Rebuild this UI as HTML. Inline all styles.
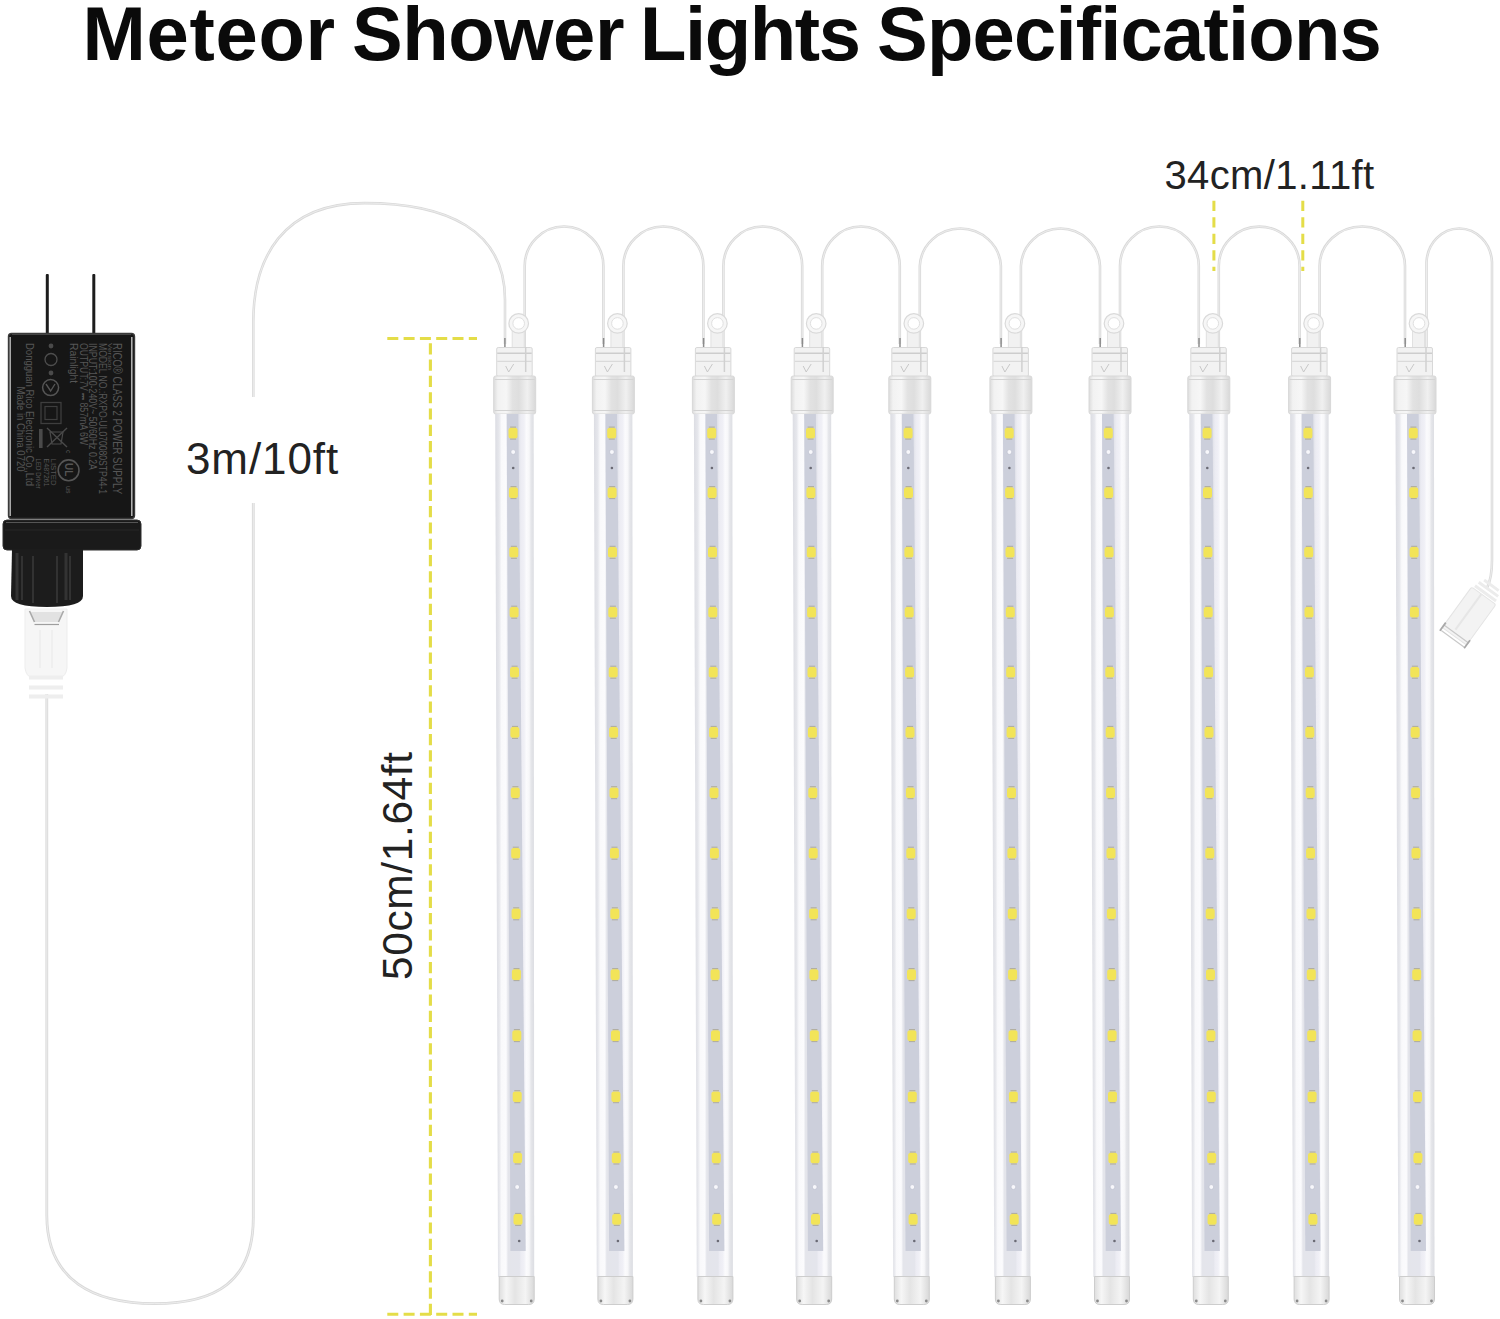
<!DOCTYPE html>
<html><head><meta charset="utf-8">
<style>
html,body{margin:0;padding:0;background:#fff;}
body{width:1500px;height:1319px;position:relative;overflow:hidden;font-family:"Liberation Sans",sans-serif;}
.t{position:absolute;white-space:nowrap;line-height:1;color:#111;}
svg{position:absolute;left:0;top:0;}
.lab{position:absolute;white-space:nowrap;line-height:1;color:#4a4a4a;font-size:7px;}
</style></head><body>
<svg width="1500" height="1319" viewBox="0 0 1500 1319">
<defs>
<linearGradient id="tubeg" x1="0" x2="1" y1="0" y2="0">
<stop offset="0" stop-color="#dcdde3"/><stop offset="0.1" stop-color="#e6e7ec"/><stop offset="0.16" stop-color="#f9f9fb"/><stop offset="0.28" stop-color="#fbfbfd"/><stop offset="0.33" stop-color="#e4e5eb"/>
<stop offset="0.62" stop-color="#e4e5ec"/><stop offset="0.66" stop-color="#ececf3"/><stop offset="0.74" stop-color="#f0f0f6"/><stop offset="0.8" stop-color="#fbfbfd"/><stop offset="0.87" stop-color="#f7f7f9"/><stop offset="0.92" stop-color="#e5e6ea"/><stop offset="1" stop-color="#dcdde2"/>
</linearGradient>
<linearGradient id="capg" x1="0" x2="1" y1="0" y2="0">
<stop offset="0" stop-color="#dcdcdc"/><stop offset="0.1" stop-color="#f2f2f2"/><stop offset="0.3" stop-color="#f6f6f6"/><stop offset="0.45" stop-color="#e2e2e2"/>
<stop offset="0.6" stop-color="#dedede"/><stop offset="0.8" stop-color="#f0f0f0"/><stop offset="1" stop-color="#d8d8d8"/>
</linearGradient>
<linearGradient id="bcapg" x1="0" x2="1" y1="0" y2="0">
<stop offset="0" stop-color="#dedede"/><stop offset="0.2" stop-color="#f6f6f6"/><stop offset="0.45" stop-color="#e4e4e4"/>
<stop offset="0.75" stop-color="#f4f4f4"/><stop offset="1" stop-color="#d8d8d8"/>
</linearGradient>
</defs>
<path d="M46.8 694 L46.8 1215 C46.8 1281.3 94.4 1303.6 154.6 1303.6 C215.8 1303.6 253.3 1281.6 253.3 1217.8 L253.3 503" fill="none" stroke="#d9d9d9" stroke-width="2.8"/><path d="M46.8 694 L46.8 1215 C46.8 1281.3 94.4 1303.6 154.6 1303.6 C215.8 1303.6 253.3 1281.6 253.3 1217.8 L253.3 503" fill="none" stroke="#eeeeee" stroke-width="0.98"/><path d="M253.3 397 L253.3 322 C253.3 257.7 283 203.1 364.5 203.1 C447 203.1 505 230 505 299.7 L505 344" fill="none" stroke="#d9d9d9" stroke-width="2.6"/><path d="M253.3 397 L253.3 322 C253.3 257.7 283 203.1 364.5 203.1 C447 203.1 505 230 505 299.7 L505 344" fill="none" stroke="#eeeeee" stroke-width="0.91"/><path d="M524.7 352 L524.7 266 A39.3 39.5 0 0 1 603.4 266 L603.4 344" fill="none" stroke="#d9d9d9" stroke-width="2.6"/><path d="M524.7 352 L524.7 266 A39.3 39.5 0 0 1 603.4 266 L603.4 344" fill="none" stroke="#eeeeee" stroke-width="0.91"/><path d="M623.4 352 L623.4 266 A40.0 39.5 0 0 1 703.4 266 L703.4 344" fill="none" stroke="#d9d9d9" stroke-width="2.6"/><path d="M623.4 352 L623.4 266 A40.0 39.5 0 0 1 703.4 266 L703.4 344" fill="none" stroke="#eeeeee" stroke-width="0.91"/><path d="M723.4 352 L723.4 266 A39.4 39.5 0 0 1 802.2 266 L802.2 344" fill="none" stroke="#d9d9d9" stroke-width="2.6"/><path d="M723.4 352 L723.4 266 A39.4 39.5 0 0 1 802.2 266 L802.2 344" fill="none" stroke="#eeeeee" stroke-width="0.91"/><path d="M822.2 352 L822.2 266 A38.8 39.5 0 0 1 899.8 266 L899.8 344" fill="none" stroke="#d9d9d9" stroke-width="2.6"/><path d="M822.2 352 L822.2 266 A38.8 39.5 0 0 1 899.8 266 L899.8 344" fill="none" stroke="#eeeeee" stroke-width="0.91"/><path d="M919.8 352 L919.8 266 A40.6 39.5 0 0 1 1000.9 266 L1000.9 344" fill="none" stroke="#d9d9d9" stroke-width="2.6"/><path d="M919.8 352 L919.8 266 A40.6 39.5 0 0 1 1000.9 266 L1000.9 344" fill="none" stroke="#eeeeee" stroke-width="0.91"/><path d="M1020.9 352 L1020.9 266 A39.6 39.5 0 0 1 1100.0 266 L1100.0 344" fill="none" stroke="#d9d9d9" stroke-width="2.6"/><path d="M1020.9 352 L1020.9 266 A39.6 39.5 0 0 1 1100.0 266 L1100.0 344" fill="none" stroke="#eeeeee" stroke-width="0.91"/><path d="M1120.0 352 L1120.0 266 A39.4 39.5 0 0 1 1198.8 266 L1198.8 344" fill="none" stroke="#d9d9d9" stroke-width="2.6"/><path d="M1120.0 352 L1120.0 266 A39.4 39.5 0 0 1 1198.8 266 L1198.8 344" fill="none" stroke="#eeeeee" stroke-width="0.91"/><path d="M1218.8 352 L1218.8 266 A40.4 39.5 0 0 1 1299.6 266 L1299.6 344" fill="none" stroke="#d9d9d9" stroke-width="2.6"/><path d="M1218.8 352 L1218.8 266 A40.4 39.5 0 0 1 1299.6 266 L1299.6 344" fill="none" stroke="#eeeeee" stroke-width="0.91"/><path d="M1319.6 352 L1319.6 266 A42.7 39.5 0 0 1 1405.0 266 L1405.0 344" fill="none" stroke="#d9d9d9" stroke-width="2.6"/><path d="M1319.6 352 L1319.6 266 A42.7 39.5 0 0 1 1405.0 266 L1405.0 344" fill="none" stroke="#eeeeee" stroke-width="0.91"/><path d="M1426.5 352 L1426.5 262 A32.8 35.5 0 0 1 1492.0 262 L1492.0 560 Q1492 578 1487 588" fill="none" stroke="#d9d9d9" stroke-width="2.6"/><path d="M1426.5 352 L1426.5 262 A32.8 35.5 0 0 1 1492.0 262 L1492.0 560 Q1492 578 1487 588" fill="none" stroke="#eeeeee" stroke-width="0.91"/><g transform="translate(1472 612) rotate(36)"><path d="M-9 -33 h18 M-12 -28 h24 M-13 -23 h26" stroke="#ececec" stroke-width="3"/><rect x="-15" y="-20" width="30" height="50" rx="2" fill="#f3f3f3" stroke="#e4e4e4" stroke-width="1"/><path d="M-3 -20 V24" stroke="#e6e6e6" stroke-width="2"/><path d="M-15 27 H15 M-14 33 H14" stroke="#c9c9c9" stroke-width="1.2"/><path d="M-15 24 V34 M15 24 V34" stroke="#a9a9a9" stroke-width="1.8"/></g><g><path d="M512.2 331 H524.2 V349 H512.2 Z" fill="#f1f1f1" stroke="#dedede" stroke-width="0.9"/><circle cx="518.7" cy="323.4" r="9.8" fill="#f6f6f6" stroke="#dadada" stroke-width="1.2"/><circle cx="518.7" cy="323.4" r="5.8" fill="#ffffff" stroke="#e0e0e0" stroke-width="1"/><rect x="496.7" y="347.5" width="35.5" height="29" rx="1.5" fill="#f2f2f2" stroke="#d8d8d8" stroke-width="1"/><path d="M497.2 353.3 H531.7" stroke="#cdcdcd" stroke-width="1.4"/><path d="M497.2 361.4 H531.7" stroke="#dadada" stroke-width="1.2"/><path d="M505.7 366 L508.7 372 L513.7 364" fill="none" stroke="#c8c8c8" stroke-width="1"/><path d="M504.9 338 V347" stroke="#8c8c8c" stroke-width="1.5"/><path d="M525.7 347 V372" stroke="#d0d0d0" stroke-width="1.5"/><rect x="493.7" y="376" width="42" height="38" rx="2" fill="url(#capg)" stroke="#d8d8d8" stroke-width="1"/><path d="M494.7 379.5 H534.7" stroke="#d4d4d4" stroke-width="1"/><path d="M494.7 410.5 H534.7" stroke="#d2d2d2" stroke-width="1.2"/><path d="M495.2 414 L533.7 414 L534.2 1277 L498.0 1277 Z" fill="url(#tubeg)"/><path d="M506.7 414 L518.4 414 L525.7 1251 L510.4 1251 Z" fill="#cccfdb"/><rect x="508.5" y="427.8" width="9" height="10.6" rx="2.5" fill="#f2e458"/><path d="M510.1 427.1 h6 M510.1 439.1 h6" stroke="#9d9470" stroke-width="1" opacity="0.6"/><rect x="508.9" y="487.3" width="9" height="10.6" rx="2.5" fill="#f2e458"/><path d="M510.5 486.6 h6 M510.5 498.6 h6" stroke="#9d9470" stroke-width="1" opacity="0.6"/><rect x="509.3" y="547.0" width="9" height="10.6" rx="2.5" fill="#f2e458"/><path d="M510.9 546.3 h6 M510.9 558.3 h6" stroke="#9d9470" stroke-width="1" opacity="0.6"/><rect x="509.6" y="606.9" width="9" height="10.6" rx="2.5" fill="#f2e458"/><path d="M511.2 606.2 h6 M511.2 618.2 h6" stroke="#9d9470" stroke-width="1" opacity="0.6"/><rect x="510.0" y="666.9" width="9" height="10.6" rx="2.5" fill="#f2e458"/><path d="M511.6 666.2 h6 M511.6 678.2 h6" stroke="#9d9470" stroke-width="1" opacity="0.6"/><rect x="510.4" y="727.1" width="9" height="10.6" rx="2.5" fill="#f2e458"/><path d="M512.0 726.4 h6 M512.0 738.4 h6" stroke="#9d9470" stroke-width="1" opacity="0.6"/><rect x="510.8" y="787.4" width="9" height="10.6" rx="2.5" fill="#f2e458"/><path d="M512.4 786.7 h6 M512.4 798.7 h6" stroke="#9d9470" stroke-width="1" opacity="0.6"/><rect x="511.2" y="847.9" width="9" height="10.6" rx="2.5" fill="#f2e458"/><path d="M512.8 847.2 h6 M512.8 859.2 h6" stroke="#9d9470" stroke-width="1" opacity="0.6"/><rect x="511.6" y="908.5" width="9" height="10.6" rx="2.5" fill="#f2e458"/><path d="M513.2 907.8 h6 M513.2 919.8 h6" stroke="#9d9470" stroke-width="1" opacity="0.6"/><rect x="511.9" y="969.3" width="9" height="10.6" rx="2.5" fill="#f2e458"/><path d="M513.5 968.6 h6 M513.5 980.6 h6" stroke="#9d9470" stroke-width="1" opacity="0.6"/><rect x="512.3" y="1030.3" width="9" height="10.6" rx="2.5" fill="#f2e458"/><path d="M513.9 1029.6 h6 M513.9 1041.6 h6" stroke="#9d9470" stroke-width="1" opacity="0.6"/><rect x="512.7" y="1091.4" width="9" height="10.6" rx="2.5" fill="#f2e458"/><path d="M514.3 1090.7 h6 M514.3 1102.7 h6" stroke="#9d9470" stroke-width="1" opacity="0.6"/><rect x="513.1" y="1152.7" width="9" height="10.6" rx="2.5" fill="#f2e458"/><path d="M514.7 1152.0 h6 M514.7 1164.0 h6" stroke="#9d9470" stroke-width="1" opacity="0.6"/><rect x="513.5" y="1214.1" width="9" height="10.6" rx="2.5" fill="#f2e458"/><path d="M515.1 1213.4 h6 M515.1 1225.4 h6" stroke="#9d9470" stroke-width="1" opacity="0.6"/><circle cx="513.2" cy="452" r="2.4" fill="#f7f7fb" stroke="#b8bccb" stroke-width="0.6"/><circle cx="517.2" cy="1187" r="2.4" fill="#f7f7fb" stroke="#b8bccb" stroke-width="0.6"/><circle cx="513.2" cy="468" r="1.3" fill="#6a6a74"/><circle cx="519.2" cy="1241" r="1.3" fill="#6a6a74"/><path d="M499.2 1276.5 H534.2 V1299 Q534.2 1304.5 528.7 1304.5 H504.7 Q499.2 1304.5 499.2 1299 Z" fill="url(#bcapg)" stroke="#cdcdcd" stroke-width="1"/><circle cx="502.2" cy="1301" r="1.4" fill="#8a8a8a"/><circle cx="531.2" cy="1301" r="1.4" fill="#8a8a8a"/></g><g><path d="M610.9 331 H622.9 V349 H610.9 Z" fill="#f1f1f1" stroke="#dedede" stroke-width="0.9"/><circle cx="617.4" cy="323.4" r="9.8" fill="#f6f6f6" stroke="#dadada" stroke-width="1.2"/><circle cx="617.4" cy="323.4" r="5.8" fill="#ffffff" stroke="#e0e0e0" stroke-width="1"/><rect x="595.4" y="347.5" width="35.5" height="29" rx="1.5" fill="#f2f2f2" stroke="#d8d8d8" stroke-width="1"/><path d="M595.9 353.3 H630.4" stroke="#cdcdcd" stroke-width="1.4"/><path d="M595.9 361.4 H630.4" stroke="#dadada" stroke-width="1.2"/><path d="M604.4 366 L607.4 372 L612.4 364" fill="none" stroke="#c8c8c8" stroke-width="1"/><path d="M603.6 338 V347" stroke="#8c8c8c" stroke-width="1.5"/><path d="M624.4 347 V372" stroke="#d0d0d0" stroke-width="1.5"/><rect x="592.4" y="376" width="42" height="38" rx="2" fill="url(#capg)" stroke="#d8d8d8" stroke-width="1"/><path d="M593.4 379.5 H633.4" stroke="#d4d4d4" stroke-width="1"/><path d="M593.4 410.5 H633.4" stroke="#d2d2d2" stroke-width="1.2"/><path d="M593.9 414 L632.4 414 L632.9 1277 L596.7 1277 Z" fill="url(#tubeg)"/><path d="M605.4 414 L617.1 414 L624.4 1251 L609.1 1251 Z" fill="#cccfdb"/><rect x="607.2" y="427.8" width="9" height="10.6" rx="2.5" fill="#f2e458"/><path d="M608.8 427.1 h6 M608.8 439.1 h6" stroke="#9d9470" stroke-width="1" opacity="0.6"/><rect x="607.6" y="487.3" width="9" height="10.6" rx="2.5" fill="#f2e458"/><path d="M609.2 486.6 h6 M609.2 498.6 h6" stroke="#9d9470" stroke-width="1" opacity="0.6"/><rect x="608.0" y="547.0" width="9" height="10.6" rx="2.5" fill="#f2e458"/><path d="M609.6 546.3 h6 M609.6 558.3 h6" stroke="#9d9470" stroke-width="1" opacity="0.6"/><rect x="608.3" y="606.9" width="9" height="10.6" rx="2.5" fill="#f2e458"/><path d="M609.9 606.2 h6 M609.9 618.2 h6" stroke="#9d9470" stroke-width="1" opacity="0.6"/><rect x="608.7" y="666.9" width="9" height="10.6" rx="2.5" fill="#f2e458"/><path d="M610.3 666.2 h6 M610.3 678.2 h6" stroke="#9d9470" stroke-width="1" opacity="0.6"/><rect x="609.1" y="727.1" width="9" height="10.6" rx="2.5" fill="#f2e458"/><path d="M610.7 726.4 h6 M610.7 738.4 h6" stroke="#9d9470" stroke-width="1" opacity="0.6"/><rect x="609.5" y="787.4" width="9" height="10.6" rx="2.5" fill="#f2e458"/><path d="M611.1 786.7 h6 M611.1 798.7 h6" stroke="#9d9470" stroke-width="1" opacity="0.6"/><rect x="609.9" y="847.9" width="9" height="10.6" rx="2.5" fill="#f2e458"/><path d="M611.5 847.2 h6 M611.5 859.2 h6" stroke="#9d9470" stroke-width="1" opacity="0.6"/><rect x="610.3" y="908.5" width="9" height="10.6" rx="2.5" fill="#f2e458"/><path d="M611.9 907.8 h6 M611.9 919.8 h6" stroke="#9d9470" stroke-width="1" opacity="0.6"/><rect x="610.6" y="969.3" width="9" height="10.6" rx="2.5" fill="#f2e458"/><path d="M612.2 968.6 h6 M612.2 980.6 h6" stroke="#9d9470" stroke-width="1" opacity="0.6"/><rect x="611.0" y="1030.3" width="9" height="10.6" rx="2.5" fill="#f2e458"/><path d="M612.6 1029.6 h6 M612.6 1041.6 h6" stroke="#9d9470" stroke-width="1" opacity="0.6"/><rect x="611.4" y="1091.4" width="9" height="10.6" rx="2.5" fill="#f2e458"/><path d="M613.0 1090.7 h6 M613.0 1102.7 h6" stroke="#9d9470" stroke-width="1" opacity="0.6"/><rect x="611.8" y="1152.7" width="9" height="10.6" rx="2.5" fill="#f2e458"/><path d="M613.4 1152.0 h6 M613.4 1164.0 h6" stroke="#9d9470" stroke-width="1" opacity="0.6"/><rect x="612.2" y="1214.1" width="9" height="10.6" rx="2.5" fill="#f2e458"/><path d="M613.8 1213.4 h6 M613.8 1225.4 h6" stroke="#9d9470" stroke-width="1" opacity="0.6"/><circle cx="611.9" cy="452" r="2.4" fill="#f7f7fb" stroke="#b8bccb" stroke-width="0.6"/><circle cx="615.9" cy="1187" r="2.4" fill="#f7f7fb" stroke="#b8bccb" stroke-width="0.6"/><circle cx="611.9" cy="468" r="1.3" fill="#6a6a74"/><circle cx="617.9" cy="1241" r="1.3" fill="#6a6a74"/><path d="M597.9 1276.5 H632.9 V1299 Q632.9 1304.5 627.4 1304.5 H603.4 Q597.9 1304.5 597.9 1299 Z" fill="url(#bcapg)" stroke="#cdcdcd" stroke-width="1"/><circle cx="600.9" cy="1301" r="1.4" fill="#8a8a8a"/><circle cx="629.9" cy="1301" r="1.4" fill="#8a8a8a"/></g><g><path d="M710.9 331 H722.9 V349 H710.9 Z" fill="#f1f1f1" stroke="#dedede" stroke-width="0.9"/><circle cx="717.4" cy="323.4" r="9.8" fill="#f6f6f6" stroke="#dadada" stroke-width="1.2"/><circle cx="717.4" cy="323.4" r="5.8" fill="#ffffff" stroke="#e0e0e0" stroke-width="1"/><rect x="695.4" y="347.5" width="35.5" height="29" rx="1.5" fill="#f2f2f2" stroke="#d8d8d8" stroke-width="1"/><path d="M695.9 353.3 H730.4" stroke="#cdcdcd" stroke-width="1.4"/><path d="M695.9 361.4 H730.4" stroke="#dadada" stroke-width="1.2"/><path d="M704.4 366 L707.4 372 L712.4 364" fill="none" stroke="#c8c8c8" stroke-width="1"/><path d="M703.6 338 V347" stroke="#8c8c8c" stroke-width="1.5"/><path d="M724.4 347 V372" stroke="#d0d0d0" stroke-width="1.5"/><rect x="692.4" y="376" width="42" height="38" rx="2" fill="url(#capg)" stroke="#d8d8d8" stroke-width="1"/><path d="M693.4 379.5 H733.4" stroke="#d4d4d4" stroke-width="1"/><path d="M693.4 410.5 H733.4" stroke="#d2d2d2" stroke-width="1.2"/><path d="M693.9 414 L732.4 414 L732.9 1277 L696.7 1277 Z" fill="url(#tubeg)"/><path d="M705.4 414 L717.1 414 L724.4 1251 L709.1 1251 Z" fill="#cccfdb"/><rect x="707.2" y="427.8" width="9" height="10.6" rx="2.5" fill="#f2e458"/><path d="M708.8 427.1 h6 M708.8 439.1 h6" stroke="#9d9470" stroke-width="1" opacity="0.6"/><rect x="707.6" y="487.3" width="9" height="10.6" rx="2.5" fill="#f2e458"/><path d="M709.2 486.6 h6 M709.2 498.6 h6" stroke="#9d9470" stroke-width="1" opacity="0.6"/><rect x="708.0" y="547.0" width="9" height="10.6" rx="2.5" fill="#f2e458"/><path d="M709.6 546.3 h6 M709.6 558.3 h6" stroke="#9d9470" stroke-width="1" opacity="0.6"/><rect x="708.3" y="606.9" width="9" height="10.6" rx="2.5" fill="#f2e458"/><path d="M709.9 606.2 h6 M709.9 618.2 h6" stroke="#9d9470" stroke-width="1" opacity="0.6"/><rect x="708.7" y="666.9" width="9" height="10.6" rx="2.5" fill="#f2e458"/><path d="M710.3 666.2 h6 M710.3 678.2 h6" stroke="#9d9470" stroke-width="1" opacity="0.6"/><rect x="709.1" y="727.1" width="9" height="10.6" rx="2.5" fill="#f2e458"/><path d="M710.7 726.4 h6 M710.7 738.4 h6" stroke="#9d9470" stroke-width="1" opacity="0.6"/><rect x="709.5" y="787.4" width="9" height="10.6" rx="2.5" fill="#f2e458"/><path d="M711.1 786.7 h6 M711.1 798.7 h6" stroke="#9d9470" stroke-width="1" opacity="0.6"/><rect x="709.9" y="847.9" width="9" height="10.6" rx="2.5" fill="#f2e458"/><path d="M711.5 847.2 h6 M711.5 859.2 h6" stroke="#9d9470" stroke-width="1" opacity="0.6"/><rect x="710.3" y="908.5" width="9" height="10.6" rx="2.5" fill="#f2e458"/><path d="M711.9 907.8 h6 M711.9 919.8 h6" stroke="#9d9470" stroke-width="1" opacity="0.6"/><rect x="710.6" y="969.3" width="9" height="10.6" rx="2.5" fill="#f2e458"/><path d="M712.2 968.6 h6 M712.2 980.6 h6" stroke="#9d9470" stroke-width="1" opacity="0.6"/><rect x="711.0" y="1030.3" width="9" height="10.6" rx="2.5" fill="#f2e458"/><path d="M712.6 1029.6 h6 M712.6 1041.6 h6" stroke="#9d9470" stroke-width="1" opacity="0.6"/><rect x="711.4" y="1091.4" width="9" height="10.6" rx="2.5" fill="#f2e458"/><path d="M713.0 1090.7 h6 M713.0 1102.7 h6" stroke="#9d9470" stroke-width="1" opacity="0.6"/><rect x="711.8" y="1152.7" width="9" height="10.6" rx="2.5" fill="#f2e458"/><path d="M713.4 1152.0 h6 M713.4 1164.0 h6" stroke="#9d9470" stroke-width="1" opacity="0.6"/><rect x="712.2" y="1214.1" width="9" height="10.6" rx="2.5" fill="#f2e458"/><path d="M713.8 1213.4 h6 M713.8 1225.4 h6" stroke="#9d9470" stroke-width="1" opacity="0.6"/><circle cx="711.9" cy="452" r="2.4" fill="#f7f7fb" stroke="#b8bccb" stroke-width="0.6"/><circle cx="715.9" cy="1187" r="2.4" fill="#f7f7fb" stroke="#b8bccb" stroke-width="0.6"/><circle cx="711.9" cy="468" r="1.3" fill="#6a6a74"/><circle cx="717.9" cy="1241" r="1.3" fill="#6a6a74"/><path d="M697.9 1276.5 H732.9 V1299 Q732.9 1304.5 727.4 1304.5 H703.4 Q697.9 1304.5 697.9 1299 Z" fill="url(#bcapg)" stroke="#cdcdcd" stroke-width="1"/><circle cx="700.9" cy="1301" r="1.4" fill="#8a8a8a"/><circle cx="729.9" cy="1301" r="1.4" fill="#8a8a8a"/></g><g><path d="M809.7 331 H821.7 V349 H809.7 Z" fill="#f1f1f1" stroke="#dedede" stroke-width="0.9"/><circle cx="816.2" cy="323.4" r="9.8" fill="#f6f6f6" stroke="#dadada" stroke-width="1.2"/><circle cx="816.2" cy="323.4" r="5.8" fill="#ffffff" stroke="#e0e0e0" stroke-width="1"/><rect x="794.2" y="347.5" width="35.5" height="29" rx="1.5" fill="#f2f2f2" stroke="#d8d8d8" stroke-width="1"/><path d="M794.7 353.3 H829.2" stroke="#cdcdcd" stroke-width="1.4"/><path d="M794.7 361.4 H829.2" stroke="#dadada" stroke-width="1.2"/><path d="M803.2 366 L806.2 372 L811.2 364" fill="none" stroke="#c8c8c8" stroke-width="1"/><path d="M802.4 338 V347" stroke="#8c8c8c" stroke-width="1.5"/><path d="M823.2 347 V372" stroke="#d0d0d0" stroke-width="1.5"/><rect x="791.2" y="376" width="42" height="38" rx="2" fill="url(#capg)" stroke="#d8d8d8" stroke-width="1"/><path d="M792.2 379.5 H832.2" stroke="#d4d4d4" stroke-width="1"/><path d="M792.2 410.5 H832.2" stroke="#d2d2d2" stroke-width="1.2"/><path d="M792.7 414 L831.2 414 L831.7 1277 L795.5 1277 Z" fill="url(#tubeg)"/><path d="M804.2 414 L815.9 414 L823.2 1251 L807.9 1251 Z" fill="#cccfdb"/><rect x="806.0" y="427.8" width="9" height="10.6" rx="2.5" fill="#f2e458"/><path d="M807.6 427.1 h6 M807.6 439.1 h6" stroke="#9d9470" stroke-width="1" opacity="0.6"/><rect x="806.4" y="487.3" width="9" height="10.6" rx="2.5" fill="#f2e458"/><path d="M808.0 486.6 h6 M808.0 498.6 h6" stroke="#9d9470" stroke-width="1" opacity="0.6"/><rect x="806.8" y="547.0" width="9" height="10.6" rx="2.5" fill="#f2e458"/><path d="M808.4 546.3 h6 M808.4 558.3 h6" stroke="#9d9470" stroke-width="1" opacity="0.6"/><rect x="807.1" y="606.9" width="9" height="10.6" rx="2.5" fill="#f2e458"/><path d="M808.7 606.2 h6 M808.7 618.2 h6" stroke="#9d9470" stroke-width="1" opacity="0.6"/><rect x="807.5" y="666.9" width="9" height="10.6" rx="2.5" fill="#f2e458"/><path d="M809.1 666.2 h6 M809.1 678.2 h6" stroke="#9d9470" stroke-width="1" opacity="0.6"/><rect x="807.9" y="727.1" width="9" height="10.6" rx="2.5" fill="#f2e458"/><path d="M809.5 726.4 h6 M809.5 738.4 h6" stroke="#9d9470" stroke-width="1" opacity="0.6"/><rect x="808.3" y="787.4" width="9" height="10.6" rx="2.5" fill="#f2e458"/><path d="M809.9 786.7 h6 M809.9 798.7 h6" stroke="#9d9470" stroke-width="1" opacity="0.6"/><rect x="808.7" y="847.9" width="9" height="10.6" rx="2.5" fill="#f2e458"/><path d="M810.3 847.2 h6 M810.3 859.2 h6" stroke="#9d9470" stroke-width="1" opacity="0.6"/><rect x="809.1" y="908.5" width="9" height="10.6" rx="2.5" fill="#f2e458"/><path d="M810.7 907.8 h6 M810.7 919.8 h6" stroke="#9d9470" stroke-width="1" opacity="0.6"/><rect x="809.4" y="969.3" width="9" height="10.6" rx="2.5" fill="#f2e458"/><path d="M811.0 968.6 h6 M811.0 980.6 h6" stroke="#9d9470" stroke-width="1" opacity="0.6"/><rect x="809.8" y="1030.3" width="9" height="10.6" rx="2.5" fill="#f2e458"/><path d="M811.4 1029.6 h6 M811.4 1041.6 h6" stroke="#9d9470" stroke-width="1" opacity="0.6"/><rect x="810.2" y="1091.4" width="9" height="10.6" rx="2.5" fill="#f2e458"/><path d="M811.8 1090.7 h6 M811.8 1102.7 h6" stroke="#9d9470" stroke-width="1" opacity="0.6"/><rect x="810.6" y="1152.7" width="9" height="10.6" rx="2.5" fill="#f2e458"/><path d="M812.2 1152.0 h6 M812.2 1164.0 h6" stroke="#9d9470" stroke-width="1" opacity="0.6"/><rect x="811.0" y="1214.1" width="9" height="10.6" rx="2.5" fill="#f2e458"/><path d="M812.6 1213.4 h6 M812.6 1225.4 h6" stroke="#9d9470" stroke-width="1" opacity="0.6"/><circle cx="810.7" cy="452" r="2.4" fill="#f7f7fb" stroke="#b8bccb" stroke-width="0.6"/><circle cx="814.7" cy="1187" r="2.4" fill="#f7f7fb" stroke="#b8bccb" stroke-width="0.6"/><circle cx="810.7" cy="468" r="1.3" fill="#6a6a74"/><circle cx="816.7" cy="1241" r="1.3" fill="#6a6a74"/><path d="M796.7 1276.5 H831.7 V1299 Q831.7 1304.5 826.2 1304.5 H802.2 Q796.7 1304.5 796.7 1299 Z" fill="url(#bcapg)" stroke="#cdcdcd" stroke-width="1"/><circle cx="799.7" cy="1301" r="1.4" fill="#8a8a8a"/><circle cx="828.7" cy="1301" r="1.4" fill="#8a8a8a"/></g><g><path d="M907.3 331 H919.3 V349 H907.3 Z" fill="#f1f1f1" stroke="#dedede" stroke-width="0.9"/><circle cx="913.8" cy="323.4" r="9.8" fill="#f6f6f6" stroke="#dadada" stroke-width="1.2"/><circle cx="913.8" cy="323.4" r="5.8" fill="#ffffff" stroke="#e0e0e0" stroke-width="1"/><rect x="891.8" y="347.5" width="35.5" height="29" rx="1.5" fill="#f2f2f2" stroke="#d8d8d8" stroke-width="1"/><path d="M892.3 353.3 H926.8" stroke="#cdcdcd" stroke-width="1.4"/><path d="M892.3 361.4 H926.8" stroke="#dadada" stroke-width="1.2"/><path d="M900.8 366 L903.8 372 L908.8 364" fill="none" stroke="#c8c8c8" stroke-width="1"/><path d="M900.0 338 V347" stroke="#8c8c8c" stroke-width="1.5"/><path d="M920.8 347 V372" stroke="#d0d0d0" stroke-width="1.5"/><rect x="888.8" y="376" width="42" height="38" rx="2" fill="url(#capg)" stroke="#d8d8d8" stroke-width="1"/><path d="M889.8 379.5 H929.8" stroke="#d4d4d4" stroke-width="1"/><path d="M889.8 410.5 H929.8" stroke="#d2d2d2" stroke-width="1.2"/><path d="M890.3 414 L928.8 414 L929.3 1277 L893.1 1277 Z" fill="url(#tubeg)"/><path d="M901.8 414 L913.5 414 L920.8 1251 L905.5 1251 Z" fill="#cccfdb"/><rect x="903.6" y="427.8" width="9" height="10.6" rx="2.5" fill="#f2e458"/><path d="M905.2 427.1 h6 M905.2 439.1 h6" stroke="#9d9470" stroke-width="1" opacity="0.6"/><rect x="904.0" y="487.3" width="9" height="10.6" rx="2.5" fill="#f2e458"/><path d="M905.6 486.6 h6 M905.6 498.6 h6" stroke="#9d9470" stroke-width="1" opacity="0.6"/><rect x="904.4" y="547.0" width="9" height="10.6" rx="2.5" fill="#f2e458"/><path d="M906.0 546.3 h6 M906.0 558.3 h6" stroke="#9d9470" stroke-width="1" opacity="0.6"/><rect x="904.7" y="606.9" width="9" height="10.6" rx="2.5" fill="#f2e458"/><path d="M906.3 606.2 h6 M906.3 618.2 h6" stroke="#9d9470" stroke-width="1" opacity="0.6"/><rect x="905.1" y="666.9" width="9" height="10.6" rx="2.5" fill="#f2e458"/><path d="M906.7 666.2 h6 M906.7 678.2 h6" stroke="#9d9470" stroke-width="1" opacity="0.6"/><rect x="905.5" y="727.1" width="9" height="10.6" rx="2.5" fill="#f2e458"/><path d="M907.1 726.4 h6 M907.1 738.4 h6" stroke="#9d9470" stroke-width="1" opacity="0.6"/><rect x="905.9" y="787.4" width="9" height="10.6" rx="2.5" fill="#f2e458"/><path d="M907.5 786.7 h6 M907.5 798.7 h6" stroke="#9d9470" stroke-width="1" opacity="0.6"/><rect x="906.3" y="847.9" width="9" height="10.6" rx="2.5" fill="#f2e458"/><path d="M907.9 847.2 h6 M907.9 859.2 h6" stroke="#9d9470" stroke-width="1" opacity="0.6"/><rect x="906.7" y="908.5" width="9" height="10.6" rx="2.5" fill="#f2e458"/><path d="M908.3 907.8 h6 M908.3 919.8 h6" stroke="#9d9470" stroke-width="1" opacity="0.6"/><rect x="907.0" y="969.3" width="9" height="10.6" rx="2.5" fill="#f2e458"/><path d="M908.6 968.6 h6 M908.6 980.6 h6" stroke="#9d9470" stroke-width="1" opacity="0.6"/><rect x="907.4" y="1030.3" width="9" height="10.6" rx="2.5" fill="#f2e458"/><path d="M909.0 1029.6 h6 M909.0 1041.6 h6" stroke="#9d9470" stroke-width="1" opacity="0.6"/><rect x="907.8" y="1091.4" width="9" height="10.6" rx="2.5" fill="#f2e458"/><path d="M909.4 1090.7 h6 M909.4 1102.7 h6" stroke="#9d9470" stroke-width="1" opacity="0.6"/><rect x="908.2" y="1152.7" width="9" height="10.6" rx="2.5" fill="#f2e458"/><path d="M909.8 1152.0 h6 M909.8 1164.0 h6" stroke="#9d9470" stroke-width="1" opacity="0.6"/><rect x="908.6" y="1214.1" width="9" height="10.6" rx="2.5" fill="#f2e458"/><path d="M910.2 1213.4 h6 M910.2 1225.4 h6" stroke="#9d9470" stroke-width="1" opacity="0.6"/><circle cx="908.3" cy="452" r="2.4" fill="#f7f7fb" stroke="#b8bccb" stroke-width="0.6"/><circle cx="912.3" cy="1187" r="2.4" fill="#f7f7fb" stroke="#b8bccb" stroke-width="0.6"/><circle cx="908.3" cy="468" r="1.3" fill="#6a6a74"/><circle cx="914.3" cy="1241" r="1.3" fill="#6a6a74"/><path d="M894.3 1276.5 H929.3 V1299 Q929.3 1304.5 923.8 1304.5 H899.8 Q894.3 1304.5 894.3 1299 Z" fill="url(#bcapg)" stroke="#cdcdcd" stroke-width="1"/><circle cx="897.3" cy="1301" r="1.4" fill="#8a8a8a"/><circle cx="926.3" cy="1301" r="1.4" fill="#8a8a8a"/></g><g><path d="M1008.4 331 H1020.4 V349 H1008.4 Z" fill="#f1f1f1" stroke="#dedede" stroke-width="0.9"/><circle cx="1014.9" cy="323.4" r="9.8" fill="#f6f6f6" stroke="#dadada" stroke-width="1.2"/><circle cx="1014.9" cy="323.4" r="5.8" fill="#ffffff" stroke="#e0e0e0" stroke-width="1"/><rect x="992.9" y="347.5" width="35.5" height="29" rx="1.5" fill="#f2f2f2" stroke="#d8d8d8" stroke-width="1"/><path d="M993.4 353.3 H1027.9" stroke="#cdcdcd" stroke-width="1.4"/><path d="M993.4 361.4 H1027.9" stroke="#dadada" stroke-width="1.2"/><path d="M1001.9 366 L1004.9 372 L1009.9 364" fill="none" stroke="#c8c8c8" stroke-width="1"/><path d="M1001.1 338 V347" stroke="#8c8c8c" stroke-width="1.5"/><path d="M1021.9 347 V372" stroke="#d0d0d0" stroke-width="1.5"/><rect x="989.9" y="376" width="42" height="38" rx="2" fill="url(#capg)" stroke="#d8d8d8" stroke-width="1"/><path d="M990.9 379.5 H1030.9" stroke="#d4d4d4" stroke-width="1"/><path d="M990.9 410.5 H1030.9" stroke="#d2d2d2" stroke-width="1.2"/><path d="M991.4 414 L1029.9 414 L1030.4 1277 L994.2 1277 Z" fill="url(#tubeg)"/><path d="M1002.9 414 L1014.6 414 L1021.9 1251 L1006.6 1251 Z" fill="#cccfdb"/><rect x="1004.7" y="427.8" width="9" height="10.6" rx="2.5" fill="#f2e458"/><path d="M1006.3 427.1 h6 M1006.3 439.1 h6" stroke="#9d9470" stroke-width="1" opacity="0.6"/><rect x="1005.1" y="487.3" width="9" height="10.6" rx="2.5" fill="#f2e458"/><path d="M1006.7 486.6 h6 M1006.7 498.6 h6" stroke="#9d9470" stroke-width="1" opacity="0.6"/><rect x="1005.5" y="547.0" width="9" height="10.6" rx="2.5" fill="#f2e458"/><path d="M1007.1 546.3 h6 M1007.1 558.3 h6" stroke="#9d9470" stroke-width="1" opacity="0.6"/><rect x="1005.8" y="606.9" width="9" height="10.6" rx="2.5" fill="#f2e458"/><path d="M1007.4 606.2 h6 M1007.4 618.2 h6" stroke="#9d9470" stroke-width="1" opacity="0.6"/><rect x="1006.2" y="666.9" width="9" height="10.6" rx="2.5" fill="#f2e458"/><path d="M1007.8 666.2 h6 M1007.8 678.2 h6" stroke="#9d9470" stroke-width="1" opacity="0.6"/><rect x="1006.6" y="727.1" width="9" height="10.6" rx="2.5" fill="#f2e458"/><path d="M1008.2 726.4 h6 M1008.2 738.4 h6" stroke="#9d9470" stroke-width="1" opacity="0.6"/><rect x="1007.0" y="787.4" width="9" height="10.6" rx="2.5" fill="#f2e458"/><path d="M1008.6 786.7 h6 M1008.6 798.7 h6" stroke="#9d9470" stroke-width="1" opacity="0.6"/><rect x="1007.4" y="847.9" width="9" height="10.6" rx="2.5" fill="#f2e458"/><path d="M1009.0 847.2 h6 M1009.0 859.2 h6" stroke="#9d9470" stroke-width="1" opacity="0.6"/><rect x="1007.8" y="908.5" width="9" height="10.6" rx="2.5" fill="#f2e458"/><path d="M1009.4 907.8 h6 M1009.4 919.8 h6" stroke="#9d9470" stroke-width="1" opacity="0.6"/><rect x="1008.1" y="969.3" width="9" height="10.6" rx="2.5" fill="#f2e458"/><path d="M1009.7 968.6 h6 M1009.7 980.6 h6" stroke="#9d9470" stroke-width="1" opacity="0.6"/><rect x="1008.5" y="1030.3" width="9" height="10.6" rx="2.5" fill="#f2e458"/><path d="M1010.1 1029.6 h6 M1010.1 1041.6 h6" stroke="#9d9470" stroke-width="1" opacity="0.6"/><rect x="1008.9" y="1091.4" width="9" height="10.6" rx="2.5" fill="#f2e458"/><path d="M1010.5 1090.7 h6 M1010.5 1102.7 h6" stroke="#9d9470" stroke-width="1" opacity="0.6"/><rect x="1009.3" y="1152.7" width="9" height="10.6" rx="2.5" fill="#f2e458"/><path d="M1010.9 1152.0 h6 M1010.9 1164.0 h6" stroke="#9d9470" stroke-width="1" opacity="0.6"/><rect x="1009.7" y="1214.1" width="9" height="10.6" rx="2.5" fill="#f2e458"/><path d="M1011.3 1213.4 h6 M1011.3 1225.4 h6" stroke="#9d9470" stroke-width="1" opacity="0.6"/><circle cx="1009.4" cy="452" r="2.4" fill="#f7f7fb" stroke="#b8bccb" stroke-width="0.6"/><circle cx="1013.4" cy="1187" r="2.4" fill="#f7f7fb" stroke="#b8bccb" stroke-width="0.6"/><circle cx="1009.4" cy="468" r="1.3" fill="#6a6a74"/><circle cx="1015.4" cy="1241" r="1.3" fill="#6a6a74"/><path d="M995.4 1276.5 H1030.4 V1299 Q1030.4 1304.5 1024.9 1304.5 H1000.9 Q995.4 1304.5 995.4 1299 Z" fill="url(#bcapg)" stroke="#cdcdcd" stroke-width="1"/><circle cx="998.4" cy="1301" r="1.4" fill="#8a8a8a"/><circle cx="1027.4" cy="1301" r="1.4" fill="#8a8a8a"/></g><g><path d="M1107.5 331 H1119.5 V349 H1107.5 Z" fill="#f1f1f1" stroke="#dedede" stroke-width="0.9"/><circle cx="1114.0" cy="323.4" r="9.8" fill="#f6f6f6" stroke="#dadada" stroke-width="1.2"/><circle cx="1114.0" cy="323.4" r="5.8" fill="#ffffff" stroke="#e0e0e0" stroke-width="1"/><rect x="1092.0" y="347.5" width="35.5" height="29" rx="1.5" fill="#f2f2f2" stroke="#d8d8d8" stroke-width="1"/><path d="M1092.5 353.3 H1127.0" stroke="#cdcdcd" stroke-width="1.4"/><path d="M1092.5 361.4 H1127.0" stroke="#dadada" stroke-width="1.2"/><path d="M1101.0 366 L1104.0 372 L1109.0 364" fill="none" stroke="#c8c8c8" stroke-width="1"/><path d="M1100.2 338 V347" stroke="#8c8c8c" stroke-width="1.5"/><path d="M1121.0 347 V372" stroke="#d0d0d0" stroke-width="1.5"/><rect x="1089.0" y="376" width="42" height="38" rx="2" fill="url(#capg)" stroke="#d8d8d8" stroke-width="1"/><path d="M1090.0 379.5 H1130.0" stroke="#d4d4d4" stroke-width="1"/><path d="M1090.0 410.5 H1130.0" stroke="#d2d2d2" stroke-width="1.2"/><path d="M1090.5 414 L1129.0 414 L1129.5 1277 L1093.3 1277 Z" fill="url(#tubeg)"/><path d="M1102.0 414 L1113.7 414 L1121.0 1251 L1105.7 1251 Z" fill="#cccfdb"/><rect x="1103.8" y="427.8" width="9" height="10.6" rx="2.5" fill="#f2e458"/><path d="M1105.4 427.1 h6 M1105.4 439.1 h6" stroke="#9d9470" stroke-width="1" opacity="0.6"/><rect x="1104.2" y="487.3" width="9" height="10.6" rx="2.5" fill="#f2e458"/><path d="M1105.8 486.6 h6 M1105.8 498.6 h6" stroke="#9d9470" stroke-width="1" opacity="0.6"/><rect x="1104.6" y="547.0" width="9" height="10.6" rx="2.5" fill="#f2e458"/><path d="M1106.2 546.3 h6 M1106.2 558.3 h6" stroke="#9d9470" stroke-width="1" opacity="0.6"/><rect x="1104.9" y="606.9" width="9" height="10.6" rx="2.5" fill="#f2e458"/><path d="M1106.5 606.2 h6 M1106.5 618.2 h6" stroke="#9d9470" stroke-width="1" opacity="0.6"/><rect x="1105.3" y="666.9" width="9" height="10.6" rx="2.5" fill="#f2e458"/><path d="M1106.9 666.2 h6 M1106.9 678.2 h6" stroke="#9d9470" stroke-width="1" opacity="0.6"/><rect x="1105.7" y="727.1" width="9" height="10.6" rx="2.5" fill="#f2e458"/><path d="M1107.3 726.4 h6 M1107.3 738.4 h6" stroke="#9d9470" stroke-width="1" opacity="0.6"/><rect x="1106.1" y="787.4" width="9" height="10.6" rx="2.5" fill="#f2e458"/><path d="M1107.7 786.7 h6 M1107.7 798.7 h6" stroke="#9d9470" stroke-width="1" opacity="0.6"/><rect x="1106.5" y="847.9" width="9" height="10.6" rx="2.5" fill="#f2e458"/><path d="M1108.1 847.2 h6 M1108.1 859.2 h6" stroke="#9d9470" stroke-width="1" opacity="0.6"/><rect x="1106.9" y="908.5" width="9" height="10.6" rx="2.5" fill="#f2e458"/><path d="M1108.5 907.8 h6 M1108.5 919.8 h6" stroke="#9d9470" stroke-width="1" opacity="0.6"/><rect x="1107.2" y="969.3" width="9" height="10.6" rx="2.5" fill="#f2e458"/><path d="M1108.8 968.6 h6 M1108.8 980.6 h6" stroke="#9d9470" stroke-width="1" opacity="0.6"/><rect x="1107.6" y="1030.3" width="9" height="10.6" rx="2.5" fill="#f2e458"/><path d="M1109.2 1029.6 h6 M1109.2 1041.6 h6" stroke="#9d9470" stroke-width="1" opacity="0.6"/><rect x="1108.0" y="1091.4" width="9" height="10.6" rx="2.5" fill="#f2e458"/><path d="M1109.6 1090.7 h6 M1109.6 1102.7 h6" stroke="#9d9470" stroke-width="1" opacity="0.6"/><rect x="1108.4" y="1152.7" width="9" height="10.6" rx="2.5" fill="#f2e458"/><path d="M1110.0 1152.0 h6 M1110.0 1164.0 h6" stroke="#9d9470" stroke-width="1" opacity="0.6"/><rect x="1108.8" y="1214.1" width="9" height="10.6" rx="2.5" fill="#f2e458"/><path d="M1110.4 1213.4 h6 M1110.4 1225.4 h6" stroke="#9d9470" stroke-width="1" opacity="0.6"/><circle cx="1108.5" cy="452" r="2.4" fill="#f7f7fb" stroke="#b8bccb" stroke-width="0.6"/><circle cx="1112.5" cy="1187" r="2.4" fill="#f7f7fb" stroke="#b8bccb" stroke-width="0.6"/><circle cx="1108.5" cy="468" r="1.3" fill="#6a6a74"/><circle cx="1114.5" cy="1241" r="1.3" fill="#6a6a74"/><path d="M1094.5 1276.5 H1129.5 V1299 Q1129.5 1304.5 1124.0 1304.5 H1100.0 Q1094.5 1304.5 1094.5 1299 Z" fill="url(#bcapg)" stroke="#cdcdcd" stroke-width="1"/><circle cx="1097.5" cy="1301" r="1.4" fill="#8a8a8a"/><circle cx="1126.5" cy="1301" r="1.4" fill="#8a8a8a"/></g><g><path d="M1206.3 331 H1218.3 V349 H1206.3 Z" fill="#f1f1f1" stroke="#dedede" stroke-width="0.9"/><circle cx="1212.8" cy="323.4" r="9.8" fill="#f6f6f6" stroke="#dadada" stroke-width="1.2"/><circle cx="1212.8" cy="323.4" r="5.8" fill="#ffffff" stroke="#e0e0e0" stroke-width="1"/><rect x="1190.8" y="347.5" width="35.5" height="29" rx="1.5" fill="#f2f2f2" stroke="#d8d8d8" stroke-width="1"/><path d="M1191.3 353.3 H1225.8" stroke="#cdcdcd" stroke-width="1.4"/><path d="M1191.3 361.4 H1225.8" stroke="#dadada" stroke-width="1.2"/><path d="M1199.8 366 L1202.8 372 L1207.8 364" fill="none" stroke="#c8c8c8" stroke-width="1"/><path d="M1199.0 338 V347" stroke="#8c8c8c" stroke-width="1.5"/><path d="M1219.8 347 V372" stroke="#d0d0d0" stroke-width="1.5"/><rect x="1187.8" y="376" width="42" height="38" rx="2" fill="url(#capg)" stroke="#d8d8d8" stroke-width="1"/><path d="M1188.8 379.5 H1228.8" stroke="#d4d4d4" stroke-width="1"/><path d="M1188.8 410.5 H1228.8" stroke="#d2d2d2" stroke-width="1.2"/><path d="M1189.3 414 L1227.8 414 L1228.3 1277 L1192.1 1277 Z" fill="url(#tubeg)"/><path d="M1200.8 414 L1212.5 414 L1219.8 1251 L1204.5 1251 Z" fill="#cccfdb"/><rect x="1202.6" y="427.8" width="9" height="10.6" rx="2.5" fill="#f2e458"/><path d="M1204.2 427.1 h6 M1204.2 439.1 h6" stroke="#9d9470" stroke-width="1" opacity="0.6"/><rect x="1203.0" y="487.3" width="9" height="10.6" rx="2.5" fill="#f2e458"/><path d="M1204.6 486.6 h6 M1204.6 498.6 h6" stroke="#9d9470" stroke-width="1" opacity="0.6"/><rect x="1203.4" y="547.0" width="9" height="10.6" rx="2.5" fill="#f2e458"/><path d="M1205.0 546.3 h6 M1205.0 558.3 h6" stroke="#9d9470" stroke-width="1" opacity="0.6"/><rect x="1203.7" y="606.9" width="9" height="10.6" rx="2.5" fill="#f2e458"/><path d="M1205.3 606.2 h6 M1205.3 618.2 h6" stroke="#9d9470" stroke-width="1" opacity="0.6"/><rect x="1204.1" y="666.9" width="9" height="10.6" rx="2.5" fill="#f2e458"/><path d="M1205.7 666.2 h6 M1205.7 678.2 h6" stroke="#9d9470" stroke-width="1" opacity="0.6"/><rect x="1204.5" y="727.1" width="9" height="10.6" rx="2.5" fill="#f2e458"/><path d="M1206.1 726.4 h6 M1206.1 738.4 h6" stroke="#9d9470" stroke-width="1" opacity="0.6"/><rect x="1204.9" y="787.4" width="9" height="10.6" rx="2.5" fill="#f2e458"/><path d="M1206.5 786.7 h6 M1206.5 798.7 h6" stroke="#9d9470" stroke-width="1" opacity="0.6"/><rect x="1205.3" y="847.9" width="9" height="10.6" rx="2.5" fill="#f2e458"/><path d="M1206.9 847.2 h6 M1206.9 859.2 h6" stroke="#9d9470" stroke-width="1" opacity="0.6"/><rect x="1205.7" y="908.5" width="9" height="10.6" rx="2.5" fill="#f2e458"/><path d="M1207.3 907.8 h6 M1207.3 919.8 h6" stroke="#9d9470" stroke-width="1" opacity="0.6"/><rect x="1206.0" y="969.3" width="9" height="10.6" rx="2.5" fill="#f2e458"/><path d="M1207.6 968.6 h6 M1207.6 980.6 h6" stroke="#9d9470" stroke-width="1" opacity="0.6"/><rect x="1206.4" y="1030.3" width="9" height="10.6" rx="2.5" fill="#f2e458"/><path d="M1208.0 1029.6 h6 M1208.0 1041.6 h6" stroke="#9d9470" stroke-width="1" opacity="0.6"/><rect x="1206.8" y="1091.4" width="9" height="10.6" rx="2.5" fill="#f2e458"/><path d="M1208.4 1090.7 h6 M1208.4 1102.7 h6" stroke="#9d9470" stroke-width="1" opacity="0.6"/><rect x="1207.2" y="1152.7" width="9" height="10.6" rx="2.5" fill="#f2e458"/><path d="M1208.8 1152.0 h6 M1208.8 1164.0 h6" stroke="#9d9470" stroke-width="1" opacity="0.6"/><rect x="1207.6" y="1214.1" width="9" height="10.6" rx="2.5" fill="#f2e458"/><path d="M1209.2 1213.4 h6 M1209.2 1225.4 h6" stroke="#9d9470" stroke-width="1" opacity="0.6"/><circle cx="1207.3" cy="452" r="2.4" fill="#f7f7fb" stroke="#b8bccb" stroke-width="0.6"/><circle cx="1211.3" cy="1187" r="2.4" fill="#f7f7fb" stroke="#b8bccb" stroke-width="0.6"/><circle cx="1207.3" cy="468" r="1.3" fill="#6a6a74"/><circle cx="1213.3" cy="1241" r="1.3" fill="#6a6a74"/><path d="M1193.3 1276.5 H1228.3 V1299 Q1228.3 1304.5 1222.8 1304.5 H1198.8 Q1193.3 1304.5 1193.3 1299 Z" fill="url(#bcapg)" stroke="#cdcdcd" stroke-width="1"/><circle cx="1196.3" cy="1301" r="1.4" fill="#8a8a8a"/><circle cx="1225.3" cy="1301" r="1.4" fill="#8a8a8a"/></g><g><path d="M1307.1 331 H1319.1 V349 H1307.1 Z" fill="#f1f1f1" stroke="#dedede" stroke-width="0.9"/><circle cx="1313.6" cy="323.4" r="9.8" fill="#f6f6f6" stroke="#dadada" stroke-width="1.2"/><circle cx="1313.6" cy="323.4" r="5.8" fill="#ffffff" stroke="#e0e0e0" stroke-width="1"/><rect x="1291.6" y="347.5" width="35.5" height="29" rx="1.5" fill="#f2f2f2" stroke="#d8d8d8" stroke-width="1"/><path d="M1292.1 353.3 H1326.6" stroke="#cdcdcd" stroke-width="1.4"/><path d="M1292.1 361.4 H1326.6" stroke="#dadada" stroke-width="1.2"/><path d="M1300.6 366 L1303.6 372 L1308.6 364" fill="none" stroke="#c8c8c8" stroke-width="1"/><path d="M1299.8 338 V347" stroke="#8c8c8c" stroke-width="1.5"/><path d="M1320.6 347 V372" stroke="#d0d0d0" stroke-width="1.5"/><rect x="1288.6" y="376" width="42" height="38" rx="2" fill="url(#capg)" stroke="#d8d8d8" stroke-width="1"/><path d="M1289.6 379.5 H1329.6" stroke="#d4d4d4" stroke-width="1"/><path d="M1289.6 410.5 H1329.6" stroke="#d2d2d2" stroke-width="1.2"/><path d="M1290.1 414 L1328.6 414 L1329.1 1277 L1292.9 1277 Z" fill="url(#tubeg)"/><path d="M1301.6 414 L1313.3 414 L1320.6 1251 L1305.3 1251 Z" fill="#cccfdb"/><rect x="1303.4" y="427.8" width="9" height="10.6" rx="2.5" fill="#f2e458"/><path d="M1305.0 427.1 h6 M1305.0 439.1 h6" stroke="#9d9470" stroke-width="1" opacity="0.6"/><rect x="1303.8" y="487.3" width="9" height="10.6" rx="2.5" fill="#f2e458"/><path d="M1305.4 486.6 h6 M1305.4 498.6 h6" stroke="#9d9470" stroke-width="1" opacity="0.6"/><rect x="1304.2" y="547.0" width="9" height="10.6" rx="2.5" fill="#f2e458"/><path d="M1305.8 546.3 h6 M1305.8 558.3 h6" stroke="#9d9470" stroke-width="1" opacity="0.6"/><rect x="1304.5" y="606.9" width="9" height="10.6" rx="2.5" fill="#f2e458"/><path d="M1306.1 606.2 h6 M1306.1 618.2 h6" stroke="#9d9470" stroke-width="1" opacity="0.6"/><rect x="1304.9" y="666.9" width="9" height="10.6" rx="2.5" fill="#f2e458"/><path d="M1306.5 666.2 h6 M1306.5 678.2 h6" stroke="#9d9470" stroke-width="1" opacity="0.6"/><rect x="1305.3" y="727.1" width="9" height="10.6" rx="2.5" fill="#f2e458"/><path d="M1306.9 726.4 h6 M1306.9 738.4 h6" stroke="#9d9470" stroke-width="1" opacity="0.6"/><rect x="1305.7" y="787.4" width="9" height="10.6" rx="2.5" fill="#f2e458"/><path d="M1307.3 786.7 h6 M1307.3 798.7 h6" stroke="#9d9470" stroke-width="1" opacity="0.6"/><rect x="1306.1" y="847.9" width="9" height="10.6" rx="2.5" fill="#f2e458"/><path d="M1307.7 847.2 h6 M1307.7 859.2 h6" stroke="#9d9470" stroke-width="1" opacity="0.6"/><rect x="1306.5" y="908.5" width="9" height="10.6" rx="2.5" fill="#f2e458"/><path d="M1308.1 907.8 h6 M1308.1 919.8 h6" stroke="#9d9470" stroke-width="1" opacity="0.6"/><rect x="1306.8" y="969.3" width="9" height="10.6" rx="2.5" fill="#f2e458"/><path d="M1308.4 968.6 h6 M1308.4 980.6 h6" stroke="#9d9470" stroke-width="1" opacity="0.6"/><rect x="1307.2" y="1030.3" width="9" height="10.6" rx="2.5" fill="#f2e458"/><path d="M1308.8 1029.6 h6 M1308.8 1041.6 h6" stroke="#9d9470" stroke-width="1" opacity="0.6"/><rect x="1307.6" y="1091.4" width="9" height="10.6" rx="2.5" fill="#f2e458"/><path d="M1309.2 1090.7 h6 M1309.2 1102.7 h6" stroke="#9d9470" stroke-width="1" opacity="0.6"/><rect x="1308.0" y="1152.7" width="9" height="10.6" rx="2.5" fill="#f2e458"/><path d="M1309.6 1152.0 h6 M1309.6 1164.0 h6" stroke="#9d9470" stroke-width="1" opacity="0.6"/><rect x="1308.4" y="1214.1" width="9" height="10.6" rx="2.5" fill="#f2e458"/><path d="M1310.0 1213.4 h6 M1310.0 1225.4 h6" stroke="#9d9470" stroke-width="1" opacity="0.6"/><circle cx="1308.1" cy="452" r="2.4" fill="#f7f7fb" stroke="#b8bccb" stroke-width="0.6"/><circle cx="1312.1" cy="1187" r="2.4" fill="#f7f7fb" stroke="#b8bccb" stroke-width="0.6"/><circle cx="1308.1" cy="468" r="1.3" fill="#6a6a74"/><circle cx="1314.1" cy="1241" r="1.3" fill="#6a6a74"/><path d="M1294.1 1276.5 H1329.1 V1299 Q1329.1 1304.5 1323.6 1304.5 H1299.6 Q1294.1 1304.5 1294.1 1299 Z" fill="url(#bcapg)" stroke="#cdcdcd" stroke-width="1"/><circle cx="1297.1" cy="1301" r="1.4" fill="#8a8a8a"/><circle cx="1326.1" cy="1301" r="1.4" fill="#8a8a8a"/></g><g><path d="M1412.5 331 H1424.5 V349 H1412.5 Z" fill="#f1f1f1" stroke="#dedede" stroke-width="0.9"/><circle cx="1419.0" cy="323.4" r="9.8" fill="#f6f6f6" stroke="#dadada" stroke-width="1.2"/><circle cx="1419.0" cy="323.4" r="5.8" fill="#ffffff" stroke="#e0e0e0" stroke-width="1"/><rect x="1397.0" y="347.5" width="35.5" height="29" rx="1.5" fill="#f2f2f2" stroke="#d8d8d8" stroke-width="1"/><path d="M1397.5 353.3 H1432.0" stroke="#cdcdcd" stroke-width="1.4"/><path d="M1397.5 361.4 H1432.0" stroke="#dadada" stroke-width="1.2"/><path d="M1406.0 366 L1409.0 372 L1414.0 364" fill="none" stroke="#c8c8c8" stroke-width="1"/><path d="M1405.2 338 V347" stroke="#8c8c8c" stroke-width="1.5"/><path d="M1426.0 347 V372" stroke="#d0d0d0" stroke-width="1.5"/><rect x="1394.0" y="376" width="42" height="38" rx="2" fill="url(#capg)" stroke="#d8d8d8" stroke-width="1"/><path d="M1395.0 379.5 H1435.0" stroke="#d4d4d4" stroke-width="1"/><path d="M1395.0 410.5 H1435.0" stroke="#d2d2d2" stroke-width="1.2"/><path d="M1395.5 414 L1434.0 414 L1434.5 1277 L1398.3 1277 Z" fill="url(#tubeg)"/><path d="M1407.0 414 L1418.7 414 L1426.0 1251 L1410.7 1251 Z" fill="#cccfdb"/><rect x="1408.8" y="427.8" width="9" height="10.6" rx="2.5" fill="#f2e458"/><path d="M1410.4 427.1 h6 M1410.4 439.1 h6" stroke="#9d9470" stroke-width="1" opacity="0.6"/><rect x="1409.2" y="487.3" width="9" height="10.6" rx="2.5" fill="#f2e458"/><path d="M1410.8 486.6 h6 M1410.8 498.6 h6" stroke="#9d9470" stroke-width="1" opacity="0.6"/><rect x="1409.6" y="547.0" width="9" height="10.6" rx="2.5" fill="#f2e458"/><path d="M1411.2 546.3 h6 M1411.2 558.3 h6" stroke="#9d9470" stroke-width="1" opacity="0.6"/><rect x="1409.9" y="606.9" width="9" height="10.6" rx="2.5" fill="#f2e458"/><path d="M1411.5 606.2 h6 M1411.5 618.2 h6" stroke="#9d9470" stroke-width="1" opacity="0.6"/><rect x="1410.3" y="666.9" width="9" height="10.6" rx="2.5" fill="#f2e458"/><path d="M1411.9 666.2 h6 M1411.9 678.2 h6" stroke="#9d9470" stroke-width="1" opacity="0.6"/><rect x="1410.7" y="727.1" width="9" height="10.6" rx="2.5" fill="#f2e458"/><path d="M1412.3 726.4 h6 M1412.3 738.4 h6" stroke="#9d9470" stroke-width="1" opacity="0.6"/><rect x="1411.1" y="787.4" width="9" height="10.6" rx="2.5" fill="#f2e458"/><path d="M1412.7 786.7 h6 M1412.7 798.7 h6" stroke="#9d9470" stroke-width="1" opacity="0.6"/><rect x="1411.5" y="847.9" width="9" height="10.6" rx="2.5" fill="#f2e458"/><path d="M1413.1 847.2 h6 M1413.1 859.2 h6" stroke="#9d9470" stroke-width="1" opacity="0.6"/><rect x="1411.9" y="908.5" width="9" height="10.6" rx="2.5" fill="#f2e458"/><path d="M1413.5 907.8 h6 M1413.5 919.8 h6" stroke="#9d9470" stroke-width="1" opacity="0.6"/><rect x="1412.2" y="969.3" width="9" height="10.6" rx="2.5" fill="#f2e458"/><path d="M1413.8 968.6 h6 M1413.8 980.6 h6" stroke="#9d9470" stroke-width="1" opacity="0.6"/><rect x="1412.6" y="1030.3" width="9" height="10.6" rx="2.5" fill="#f2e458"/><path d="M1414.2 1029.6 h6 M1414.2 1041.6 h6" stroke="#9d9470" stroke-width="1" opacity="0.6"/><rect x="1413.0" y="1091.4" width="9" height="10.6" rx="2.5" fill="#f2e458"/><path d="M1414.6 1090.7 h6 M1414.6 1102.7 h6" stroke="#9d9470" stroke-width="1" opacity="0.6"/><rect x="1413.4" y="1152.7" width="9" height="10.6" rx="2.5" fill="#f2e458"/><path d="M1415.0 1152.0 h6 M1415.0 1164.0 h6" stroke="#9d9470" stroke-width="1" opacity="0.6"/><rect x="1413.8" y="1214.1" width="9" height="10.6" rx="2.5" fill="#f2e458"/><path d="M1415.4 1213.4 h6 M1415.4 1225.4 h6" stroke="#9d9470" stroke-width="1" opacity="0.6"/><circle cx="1413.5" cy="452" r="2.4" fill="#f7f7fb" stroke="#b8bccb" stroke-width="0.6"/><circle cx="1417.5" cy="1187" r="2.4" fill="#f7f7fb" stroke="#b8bccb" stroke-width="0.6"/><circle cx="1413.5" cy="468" r="1.3" fill="#6a6a74"/><circle cx="1419.5" cy="1241" r="1.3" fill="#6a6a74"/><path d="M1399.5 1276.5 H1434.5 V1299 Q1434.5 1304.5 1429.0 1304.5 H1405.0 Q1399.5 1304.5 1399.5 1299 Z" fill="url(#bcapg)" stroke="#cdcdcd" stroke-width="1"/><circle cx="1402.5" cy="1301" r="1.4" fill="#8a8a8a"/><circle cx="1431.5" cy="1301" r="1.4" fill="#8a8a8a"/></g><path d="M387.3 338.6 H477" stroke="#e4dd48" stroke-width="3" stroke-dasharray="11 5.3"/><path d="M430.4 343.3 V1315" stroke="#e4dd48" stroke-width="3.1" stroke-dasharray="11.2 5.08"/><path d="M387.3 1314.3 H477" stroke="#e4dd48" stroke-width="3" stroke-dasharray="11 5.3"/><path d="M1213.9 200.8 V271" stroke="#e4dd48" stroke-width="3" stroke-dasharray="10.3 6.2"/><path d="M1302.8 200.8 V271" stroke="#e4dd48" stroke-width="3" stroke-dasharray="10.3 6.2"/><g><rect x="45.8" y="274" width="3" height="62" rx="1" fill="#1c1c1c"/><rect x="92.3" y="274" width="3" height="62" rx="1" fill="#1c1c1c"/><rect x="8.5" y="333.5" width="126" height="185" rx="3" fill="#161616" stroke="#3a3a3a" stroke-width="1.4"/><rect x="3" y="520" width="138" height="30" rx="4" fill="#1a1a1a" stroke="#2e2e2e" stroke-width="1"/><path d="M12 549 H83 V596 Q83 607 47 607 Q11 607 11 596 Z" fill="#1c1c1c"/><path d="M22 556 V600 M33 556 V603 M57 556 V603 M70 556 V600" stroke="#3a3a3a" stroke-width="1.5"/><path d="M25 609 H67 V668 Q66 676 60 678 H32 Q26 676 25 668 Z" fill="#f6f6f6" stroke="#ededed" stroke-width="1"/><path d="M30 612 L35 622 H58 L63 612 Z" fill="#e2e2e2"/><path d="M29.5 611 L34.5 622 M63.5 611 L58.5 622" stroke="#a9a9a9" stroke-width="1.6"/><path d="M34.5 624.5 H59" stroke="#9e9e9e" stroke-width="1.2"/><path d="M40 630 V668 M52 630 V668" stroke="#efefef" stroke-width="2"/><path d="M29 677.5 H63 M29 687.5 H63 M29 696.5 H63" stroke="#eeeeee" stroke-width="4"/><path d="M10.2 337 V516" stroke="#a8a8a8" stroke-width="1.6"/><path d="M131.8 337 V516" stroke="#b0b0b0" stroke-width="1.6"/><path d="M12 334.5 H131" stroke="#444" stroke-width="1"/><path d="M6 522.5 H138" stroke="#555" stroke-width="1.2"/><path d="M5 530 H139" stroke="#262626" stroke-width="1"/><path d="M17 553 V600 M66 553 V600" stroke="#333" stroke-width="3"/></g><g transform="translate(125 343) rotate(90)" font-family="Liberation Sans"><text x="0.0" y="11.8" font-size="12.5" textLength="151" lengthAdjust="spacingAndGlyphs" fill="#565656">RICO® CLASS 2 POWER SUPPLY</text><text x="0.0" y="17.2" font-size="5" textLength="27" lengthAdjust="spacingAndGlyphs" fill="#565656">Version</text><text x="0.0" y="26.4" font-size="10" textLength="151" lengthAdjust="spacingAndGlyphs" fill="#565656">MODEL NO.:RXPO-UL070080STP44-1</text><text x="0.0" y="36.5" font-size="10" textLength="127" lengthAdjust="spacingAndGlyphs" fill="#565656">INPUT:100-240V~ 50/60Hz 0.2A</text><text x="0.0" y="45.5" font-size="10" textLength="102" lengthAdjust="spacingAndGlyphs" fill="#565656">OUTPUT:7V ⎓ 857mA 6W</text><text x="0.0" y="54.9" font-size="10" textLength="40" lengthAdjust="spacingAndGlyphs" fill="#565656">Rainlight</text><text x="0.0" y="99.5" font-size="10" textLength="143" lengthAdjust="spacingAndGlyphs" fill="#565656">Dongguan Rico Electronic Co.,Ltd</text><text x="43.5" y="108.5" font-size="10" textLength="85" lengthAdjust="spacingAndGlyphs" fill="#565656">Made in China  0720</text><text x="115.6" y="74.5" font-size="6.5" textLength="27" lengthAdjust="spacingAndGlyphs" fill="#565656">LISTED</text><text x="115.6" y="81.4" font-size="6.5" textLength="28" lengthAdjust="spacingAndGlyphs" fill="#565656">E487261</text><text x="115.6" y="88.8" font-size="6.5" textLength="30" lengthAdjust="spacingAndGlyphs" fill="#565656">LED Driver</text></g><g><circle cx="51" cy="346" r="2.4" fill="#4a4a4a"/><circle cx="51" cy="373" r="2.4" fill="#4a4a4a"/><circle cx="51" cy="359.5" r="6" fill="none" stroke="#4e4e4e" stroke-width="1.3"/><circle cx="50.6" cy="387.6" r="8" fill="none" stroke="#555" stroke-width="1.5"/><path d="M46 384 L50.6 391 L55 384" fill="none" stroke="#555" stroke-width="1.4"/><rect x="41" y="402.5" width="20" height="21" fill="none" stroke="#3e3e3e" stroke-width="1.3"/><rect x="45" y="406.5" width="12" height="13" fill="none" stroke="#3e3e3e" stroke-width="1.2"/><rect x="39" y="429" width="3.6" height="19" fill="#4a4a4a"/><path d="M47 428 L67 447 M67 428 L47 447" stroke="#4a4a4a" stroke-width="1.4"/><path d="M50 432 h13 l-2 12 h-9 z" fill="none" stroke="#4a4a4a" stroke-width="1.2"/><circle cx="68.6" cy="470.3" r="10.4" fill="none" stroke="#555" stroke-width="1.6"/><text x="0" y="0" transform="translate(64.5 463) rotate(90)" font-family="Liberation Sans" font-size="10" font-weight="bold" fill="#555">UL</text><text x="0" y="0" transform="translate(66 450) rotate(90)" font-family="Liberation Sans" font-size="7" fill="#555">c</text><text x="0" y="0" transform="translate(66 486) rotate(90)" font-family="Liberation Sans" font-size="7" fill="#555">us</text></g>
</svg>
<div class="t" style="left:82.5px;top:-4px;font-size:76px;font-weight:bold;color:#0a0a0a;letter-spacing:0.7px">Meteor</div>
<div class="t" style="left:352px;top:-4px;font-size:76px;font-weight:bold;color:#0a0a0a;letter-spacing:-0.4px">Shower</div>
<div class="t" style="left:640px;top:-4px;font-size:76px;font-weight:bold;color:#0a0a0a;letter-spacing:-1.4px">Lights</div>
<div class="t" style="left:877px;top:-4px;font-size:76px;font-weight:bold;color:#0a0a0a;letter-spacing:-0.8px">Specifications</div>
<div class="t" id="l3m" style="left:186px;top:436.5px;font-size:44px;letter-spacing:0.9px;color:#222">3m/10ft</div>
<div class="t" id="l34" style="left:1164.5px;top:155.2px;font-size:40px;letter-spacing:0.36px;color:#222">34cm/1.11ft</div>
<div class="t" id="l50" style="left:0;top:0;font-size:42.5px;letter-spacing:0.6px;color:#222;transform-origin:0 0;transform:translate(377px,980px) rotate(-90deg)">50cm/1.64ft</div>
</body></html>
